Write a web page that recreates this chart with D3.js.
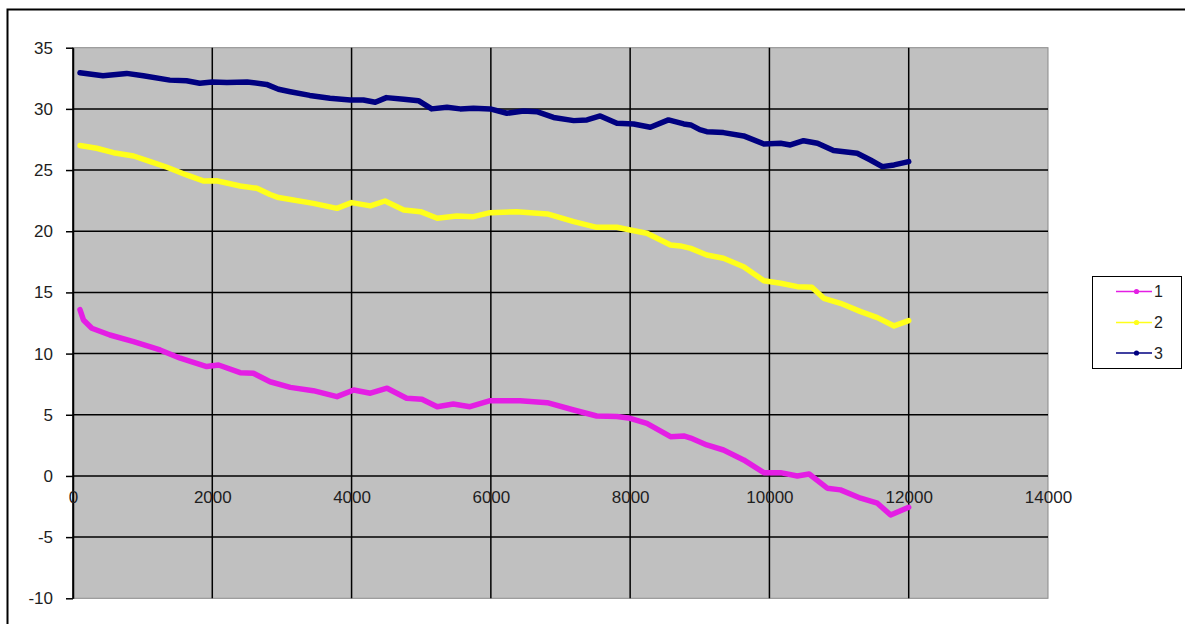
<!DOCTYPE html>
<html>
<head>
<meta charset="utf-8">
<script src="https://cdn.jsdelivr.net/npm/d3@7"></script>
<style>
  html, body { margin: 0; padding: 0; background: #ffffff; }
  svg { display: block; font-family: "Liberation Sans", Arial, sans-serif; }
</style>
</head>
<body>
<svg id="chart" width="1185" height="624"></svg>
<script>
// Axis ticks
const xTicks = [0, 2000, 4000, 6000, 8000, 10000, 12000, 14000];
const yTicks = [-10, -5, 0, 5, 10, 15, 20, 25, 30, 35];

// Series names and colours
const seriesNames = ["1", "2", "3"];
const seriesColors = ["#e41ee4", "#ffff1a", "#000080"];

// Series 1: [x, value]
const series1 = [
  [100, 13.6], [150, 12.75], [270, 12.07], [530, 11.52], [870, 10.98], [1250, 10.3],
  [1540, 9.62], [1920, 8.94], [2090, 9.07], [2400, 8.44], [2590, 8.39], [2830, 7.7],
  [3120, 7.24], [3450, 6.97], [3790, 6.48], [4030, 7.03], [4270, 6.76], [4510, 7.17],
  [4790, 6.35], [5010, 6.27], [5230, 5.66], [5460, 5.88], [5700, 5.66], [5990, 6.15],
  [6420, 6.15], [6810, 5.99], [7190, 5.39], [7520, 4.9], [7810, 4.85], [8000, 4.71],
  [8240, 4.3], [8580, 3.21], [8770, 3.27], [8870, 3.1], [9100, 2.53], [9340, 2.12],
  [9630, 1.31], [9920, 0.27], [10160, 0.27], [10400, 0.0], [10570, 0.16], [10830, -1.0],
  [11020, -1.14], [11310, -1.82], [11550, -2.23], [11740, -3.19], [12000, -2.56]
];

// Series 2: [x, value]
const series2 = [
  [100, 27.0], [340, 26.78], [580, 26.42], [870, 26.15], [1110, 25.69], [1350, 25.23],
  [1630, 24.6], [1870, 24.11], [2060, 24.13], [2400, 23.7], [2640, 23.51], [2830, 23.0],
  [2950, 22.75], [3120, 22.6], [3450, 22.28], [3790, 21.87], [4000, 22.34], [4270, 22.07],
  [4480, 22.47], [4750, 21.74], [4990, 21.6], [5230, 21.06], [5510, 21.25], [5750, 21.19],
  [5990, 21.52], [6370, 21.6], [6810, 21.41], [7190, 20.78], [7520, 20.32], [7810, 20.32],
  [8000, 20.1], [8240, 19.84], [8580, 18.88], [8720, 18.8], [8870, 18.6], [9100, 18.06],
  [9340, 17.79], [9630, 17.1], [9920, 15.96], [10160, 15.75], [10400, 15.47], [10610, 15.42],
  [10780, 14.52], [11020, 14.11], [11310, 13.43], [11550, 12.94], [11790, 12.26], [12000, 12.69]
];

// Series 3: [x, value]
const series3 = [
  [100, 32.95], [430, 32.7], [770, 32.9], [1010, 32.7], [1390, 32.35], [1630, 32.3],
  [1820, 32.1], [2000, 32.2], [2210, 32.15], [2500, 32.2], [2780, 32.0], [2950, 31.6],
  [3120, 31.4], [3400, 31.1], [3690, 30.87], [3980, 30.73], [4170, 30.73], [4340, 30.54],
  [4500, 30.92], [4750, 30.78], [4960, 30.67], [5150, 30.0], [5370, 30.13], [5560, 30.0],
  [5750, 30.05], [5990, 30.0], [6230, 29.64], [6470, 29.83], [6660, 29.77], [6900, 29.3],
  [7190, 29.04], [7380, 29.1], [7570, 29.42], [7810, 28.82], [8050, 28.77], [8290, 28.5],
  [8550, 29.1], [8770, 28.77], [8870, 28.69], [9000, 28.3], [9100, 28.14], [9340, 28.06],
  [9630, 27.79], [9920, 27.13], [10160, 27.19], [10300, 27.05], [10490, 27.4], [10690, 27.19],
  [10920, 26.59], [11260, 26.37], [11450, 25.82], [11620, 25.28], [11790, 25.42], [12000, 25.69]
];

const allSeries = [series1, series2, series3];

const svg = d3.select("#chart");
const W = 1185, H = 624;
const plot = { left: 73, right: 1048, top: 47.7, bottom: 598.3 };

const x = d3.scaleLinear().domain([0, 14000]).range([plot.left, plot.right]);
const y = d3.scaleLinear().domain([-10, 35]).range([plot.bottom, plot.top]);

// Chart frame (only top and left edges fall inside the view)
svg.append("rect")
  .attr("x", 7.5).attr("y", 9.5)
  .attr("width", W + 20).attr("height", H + 20)
  .attr("fill", "#ffffff")
  .attr("stroke", "#000000").attr("stroke-width", 2);

// Plot area background
svg.append("rect")
  .attr("x", plot.left).attr("y", plot.top)
  .attr("width", plot.right - plot.left).attr("height", plot.bottom - plot.top)
  .attr("fill", "#c0c0c0")
  .attr("stroke", "#8a8a8a").attr("stroke-width", 1);

// Gridlines
const grid = svg.append("g").attr("stroke", "#000000").attr("stroke-width", 1.5);
grid.selectAll("line.h")
  .data(yTicks.filter(v => v > -10 && v < 35))
  .join("line").attr("class", "h")
  .attr("x1", plot.left).attr("x2", plot.right)
  .attr("y1", d => y(d)).attr("y2", d => y(d));
grid.selectAll("line.v")
  .data(xTicks.filter(v => v < 14000))
  .join("line").attr("class", "v")
  .attr("x1", d => x(d)).attr("x2", d => x(d))
  .attr("y1", plot.top).attr("y2", plot.bottom);

// Y axis
const yAxis = svg.append("g")
  .attr("transform", `translate(${plot.left},0)`)
  .call(d3.axisLeft(y).tickValues(yTicks).tickSize(7).tickPadding(13).tickSizeOuter(0)
    .tickFormat(d => String(d)));
yAxis.select(".domain").attr("stroke", "#000").attr("stroke-width", 1.5);
yAxis.selectAll(".tick line").attr("stroke", "#000").attr("stroke-width", 1.5);
yAxis.selectAll(".tick text")
  .attr("font-size", 17).attr("fill", "#1e1e1e")
  .attr("font-family", "'Liberation Sans', Arial, sans-serif");

// X axis labels, set along the zero line
const xAxis = svg.append("g")
  .attr("transform", `translate(0,${y(0)})`)
  .call(d3.axisBottom(x).tickValues(xTicks).tickSize(0).tickPadding(15)
    .tickFormat(d => String(d)));
xAxis.select(".domain").remove();
xAxis.selectAll(".tick text")
  .attr("font-size", 17).attr("fill", "#1e1e1e")
  .attr("font-family", "'Liberation Sans', Arial, sans-serif");

// Series lines
const line = d3.line().x(d => x(d[0])).y(d => y(d[1]));
svg.append("g").selectAll("path")
  .data(allSeries)
  .join("path")
  .attr("d", line)
  .attr("fill", "none")
  .attr("stroke", (d, i) => seriesColors[i])
  .attr("stroke-width", 5.5)
  .attr("stroke-linejoin", "round")
  .attr("stroke-linecap", "round");

// Legend
const legend = svg.append("g");
legend.append("rect")
  .attr("x", 1092.5).attr("y", 276.5).attr("width", 89).attr("height", 92)
  .attr("fill", "#ffffff").attr("stroke", "#000000").attr("stroke-width", 1);
const legendY = [291.5, 322.5, 353];
const items = legend.selectAll("g.item")
  .data(seriesNames)
  .join("g").attr("class", "item")
  .attr("transform", (d, i) => `translate(0,${legendY[i]})`);
items.append("line")
  .attr("x1", 1116).attr("x2", 1152).attr("y1", 0).attr("y2", 0)
  .attr("stroke", (d, i) => seriesColors[i]).attr("stroke-width", 1.6);
items.append("circle")
  .attr("cx", 1136.5).attr("cy", 0).attr("r", 2.6)
  .attr("fill", (d, i) => seriesColors[i]);
items.append("text")
  .attr("x", 1154).attr("y", 0).attr("dy", "0.36em")
  .attr("font-size", 16).attr("fill", "#1e1e1e")
  .text(d => d);
</script>
</body>
</html>
